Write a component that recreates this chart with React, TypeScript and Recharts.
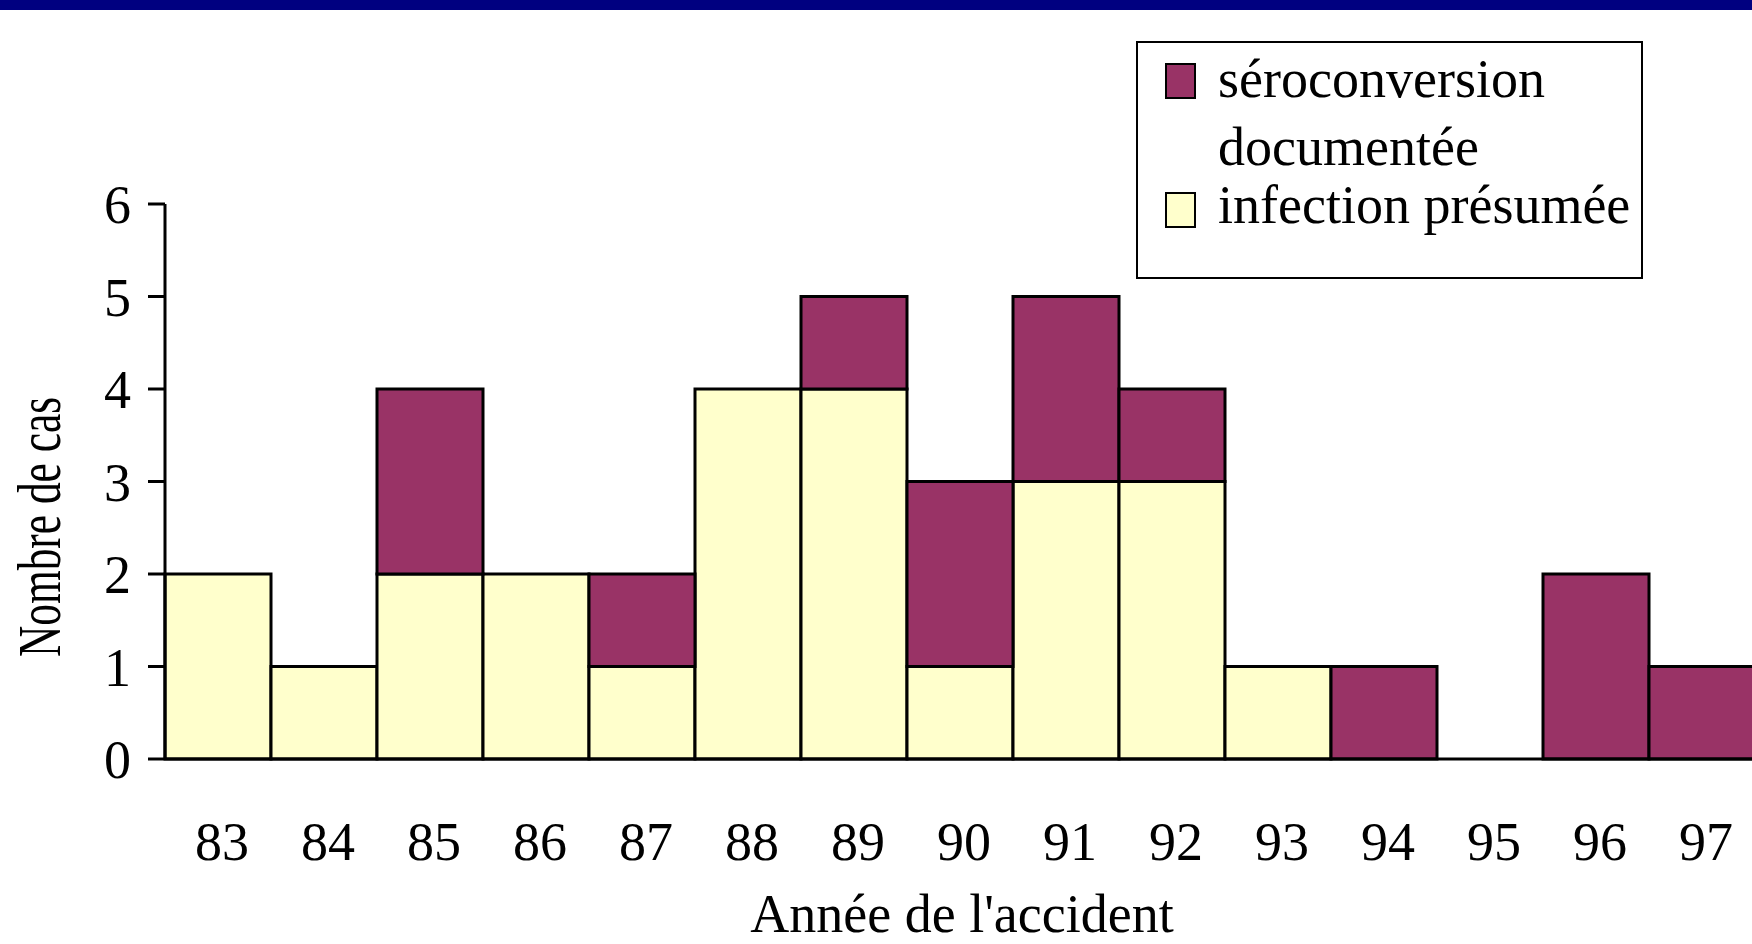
import React from 'react';
import { BarChart, Bar, XAxis, YAxis, Legend, Label } from 'recharts';

const years = ['83', '84', '85', '86', '87', '88', '89', '90', '91', '92', '93', '94', '95', '96', '97'];
const infectionPresumee = [2, 1, 2, 2, 1, 4, 4, 1, 3, 3, 1, 0, 0, 0, 0];
const seroconversion = [0, 0, 2, 0, 1, 0, 1, 2, 2, 1, 0, 1, 0, 2, 1];
const yTicks = [0, 1, 2, 3, 4, 5, 6];

const SERIES_SERO = 'séroconversion documentée';
const SERIES_INF = 'infection présumée';

const COLOR_SERO = '#993366';
const COLOR_INF = '#FFFFCC';
const FONT = '"Liberation Serif", "Times New Roman", serif';

const data = years.map((y, i) => ({
  year: y,
  inf: infectionPresumee[i],
  sero: seroconversion[i],
}));

const XTick = (props: any) => {
  const { x, y, payload } = props;
  return (
    <text x={x + 4} y={y + 101} textAnchor="middle" fontFamily={FONT} fontSize={54} fill="#000">
      {payload.value}
    </text>
  );
};

const renderLegend = (props: any) => {
  const payload = (props.payload || []).slice().reverse();
  const textTops = [1.8, 127.8];
  const squareTops = [20, 149];
  return (
    <div
      style={{
        position: 'relative',
        width: 503,
        height: 234,
        border: '2px solid #000',
        background: '#fff',
        fontFamily: FONT,
        fontSize: 54,
        color: '#000',
      }}
    >
      {payload.map((p: any, i: number) => (
        <React.Fragment key={p.value}>
          <div
            style={{
              position: 'absolute',
              left: 27,
              top: squareTops[i],
              width: 27,
              height: 32,
              background: p.color,
              border: '2.5px solid #000',
            }}
          />
          <div
            style={{
              position: 'absolute',
              left: 80,
              top: textTops[i],
              width: 420,
              lineHeight: '68px',
              whiteSpace: i === 1 ? 'nowrap' : 'normal',
            }}
          >
            {p.value}
          </div>
        </React.Fragment>
      ))}
    </div>
  );
};

export default function App() {
  return (
    <div
      style={{
        position: 'absolute',
        left: 0,
        top: 0,
        width: 1752,
        height: 944,
        overflow: 'hidden',
        background: '#fff',
      }}
    >
      <div style={{ position: 'absolute', left: 0, top: 0, width: 1752, height: 10, background: '#000080' }} />
      <BarChart
        width={1760}
        height={944}
        data={data}
        margin={{ top: 204, right: 5, bottom: 0, left: 0 }}
        barCategoryGap={0}
        barGap={0}
      >
        <XAxis
          dataKey="year"
          height={185}
          tickLine={false}
          tickSize={0}
          tickMargin={0}
          axisLine={{ stroke: '#000', strokeWidth: 3 }}
          tick={<XTick />}
          interval={0}
        >
          <Label
            content={(p: any) => {
              const vb = p.viewBox || { x: 165, width: 1590 };
              return (
                <text x={vb.x + vb.width / 2 + 2} y={932} textAnchor="middle" fontFamily={FONT} fontSize={54} fill="#000">
                  Année de l'accident
                </text>
              );
            }}
          />
        </XAxis>
        <YAxis
          width={165}
          domain={[0, 6]}
          ticks={yTicks}
          interval={0}
          tickSize={17}
          tickMargin={17}
          tickLine={{ stroke: '#000', strokeWidth: 3 }}
          axisLine={{ stroke: '#000', strokeWidth: 3 }}
          tick={{ fontFamily: FONT, fontSize: 54, fill: '#000' }}
        >
          <Label
            content={() => (
              <text
                transform="translate(60,527) rotate(-90) scale(0.7,1)"
                textAnchor="middle"
                fontFamily={FONT}
                fontSize={62}
                fill="#000"
              >
                Nombre de cas
              </text>
            )}
          />
        </YAxis>
        <Legend
          layout="horizontal"
          verticalAlign="middle"
          align="center"
          content={renderLegend}
          wrapperStyle={{ position: 'absolute', left: 1136, top: 41, width: 507, height: 238 }}
        />
        <Bar dataKey="inf" name={SERIES_INF} stackId="a" fill={COLOR_INF} stroke="#000" strokeWidth={3} isAnimationActive={false} />
        <Bar dataKey="sero" name={SERIES_SERO} stackId="a" fill={COLOR_SERO} stroke="#000" strokeWidth={3} isAnimationActive={false} />
      </BarChart>
    </div>
  );
}
